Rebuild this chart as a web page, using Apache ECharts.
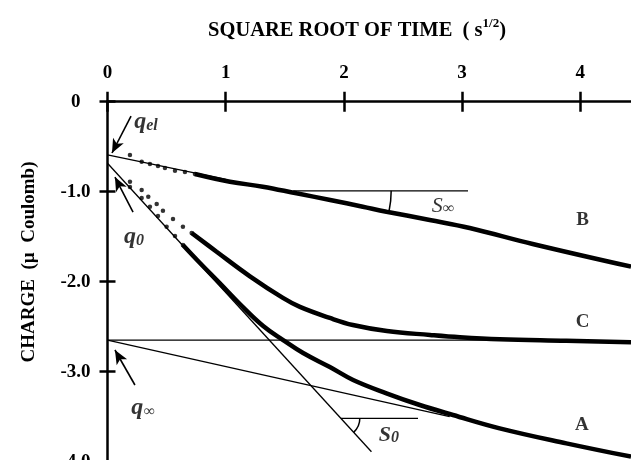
<!DOCTYPE html>
<html>
<head>
<meta charset="utf-8">
<title>Charge vs square root of time</title>
<script src="https://cdn.jsdelivr.net/npm/echarts@6/dist/echarts.min.js"></script>
<style>
html, body { margin: 0; padding: 0; background: #fff; overflow: hidden; }
#chartBox { width: 631px; height: 480px; }
</style>
</head>
<body>
<div id="chartBox"></div>
<script>
// axis ticks
const xTicks = [0, 1, 2, 3, 4];
const yTicks = [0, -1, -2, -3, -4];

// curve B (top)
const bDotX = [0.19, 0.289, 0.359, 0.427, 0.486, 0.571, 0.655, 0.74];
const bDotY = [-0.592, -0.667, -0.692, -0.714, -0.737, -0.767, -0.781, -0.803];
const bLineX = [0.74, 1.036, 1.314, 1.599, 1.884, 2.16, 2.36, 2.726, 3.064, 3.597, 4.429];
const bLineY = [-0.803, -0.889, -0.944, -1.018, -1.092, -1.167, -1.222, -1.314, -1.403, -1.581, -1.833];

// curve C (middle)
const cDotX = [0.19, 0.289, 0.345, 0.416, 0.469, 0.554, 0.638, 0.712];
const cDotY = [-0.889, -0.981, -1.056, -1.137, -1.211, -1.303, -1.389, -1.459];
const cLineX = [0.712, 0.923, 1.205, 1.484, 1.628, 1.881, 2.076, 2.364, 2.728, 2.982, 3.318, 3.882, 4.429];
const cLineY = [-1.459, -1.667, -1.94, -2.18, -2.28, -2.403, -2.481, -2.548, -2.592, -2.618, -2.64, -2.656, -2.673];

// curve A (bottom)
const aDotX = [0.19, 0.289, 0.359, 0.427, 0.5, 0.571, 0.638];
const aDotY = [-0.948, -1.07, -1.167, -1.27, -1.389, -1.492, -1.592];
const aLineX = [0.638, 0.782, 0.951, 1.12, 1.317, 1.486, 1.655, 1.881, 2.078, 2.36, 2.642, 2.923, 3.318, 3.882, 4.429];
const aLineY = [-1.592, -1.792, -2.018, -2.248, -2.492, -2.648, -2.792, -2.948, -3.092, -3.24, -3.37, -3.481, -3.629, -3.796, -3.944];

// thin construction lines
const qelLineX = [0, 1.0];
const qelLineY = [-0.592, -0.862];
const s0LineX = [0, 2.233];
const s0LineY = [-0.684, -3.889];
const qinfFlatX = [0, 3.4];
const qinfFlatY = [-2.65, -2.65];
const qinfSlopeX = [0, 2.895];
const qinfSlopeY = [-2.65, -3.498];
const sinfRefX = [1.571, 3.05];
const sinfRefY = [-0.99, -0.99];
const s0RefX = [1.974, 2.627];
const s0RefY = [-3.518, -3.518];

// arrows (tail -> head)
const arrowFromX = [0.199, 0.216, 0.232];
const arrowFromY = [-0.159, -1.226, -3.148];
const arrowToX = [0.038, 0.063, 0.063];
const arrowToY = [-0.570, -0.837, -2.759];

// text notes
const noteX = [0.326, 0.224, 0.300, 2.838, 2.381, 4.019, 4.019, 4.014];
const noteY = [-0.226, -1.503, -3.403, -1.159, -3.703, -1.314, -2.444, -3.592];
const noteText = ['{q|q}{sub|el}', '{q|q}{sub|0}', '{q|q}{sub|∞}', '{s|S}{ssub|∞}', '{s0|S}{s0sub|0}', '{lab|B}', '{lab|C}', '{lab|A}'];

const FONT = 'Liberation Serif';

function zip(xs, ys) {
	return xs.map((x, i) => [x, ys[i]]);
}

function thin(xs, ys) {
	return {
		type: 'line',
		data: zip(xs, ys),
		symbol: 'none',
		silent: true,
		lineStyle: { color: '#000', width: 1.3 },
		z: 1
	};
}

function curve(xs, ys) {
	return {
		type: 'line',
		data: zip(xs, ys),
		symbol: 'none',
		smooth: 0.4,
		silent: true,
		lineStyle: { color: '#000', width: 4.5 },
		z: 3
	};
}

function dots(xs, ys) {
	return {
		type: 'scatter',
		data: zip(xs, ys),
		symbol: 'circle',
		symbolSize: 4.5,
		silent: true,
		itemStyle: { color: '#000' },
		z: 3
	};
}

let myChart = echarts.init(document.getElementById('chartBox'));

let option = {
	animation: false,
	backgroundColor: '#fff',
	grid: { left: 107.5, top: 101.7, width: 523.5, height: 378, outerBoundsMode: 'none' },
	xAxis: [{
		type: 'value',
		position: 'top',
		min: 0,
		max: 4.429,
		axisLine: { show: true, lineStyle: { color: '#000', width: 2.5 } },
		axisTick: { show: true, inside: false, length: 10, customValues: xTicks, lineStyle: { color: '#000', width: 2.5 } },
		axisLabel: {
			customValues: xTicks,
			margin: 19,
			color: '#000',
			fontFamily: FONT,
			fontWeight: 'bold',
			fontSize: 19
		},
		splitLine: { show: false }
	}, {
		type: 'value',
		position: 'top',
		min: 0,
		max: 4.429,
		axisLine: { show: false },
		axisTick: { show: true, inside: true, length: 10, customValues: xTicks, lineStyle: { color: '#000', width: 2.5 } },
		axisLabel: { show: false },
		splitLine: { show: false }
	}],
	yAxis: [{
		type: 'value',
		position: 'left',
		min: -4.2,
		max: 0,
		axisLine: { show: true, lineStyle: { color: '#000', width: 2.5 } },
		axisTick: { show: true, inside: false, length: 8, customValues: yTicks, lineStyle: { color: '#000', width: 2.5 } },
		axisLabel: {
			customValues: yTicks,
			margin: 17,
			color: '#000',
			fontFamily: FONT,
			fontWeight: 'bold',
			fontSize: 19,
			formatter: function (v) {
				return v === 0 ? '{z|0}' : v.toFixed(1);
			},
			rich: {
				z: { fontFamily: FONT, fontWeight: 'bold', fontSize: 19, color: '#000', padding: [0, 10, 0, 0] }
			}
		},
		splitLine: { show: false }
	}, {
		type: 'value',
		position: 'left',
		min: -4.2,
		max: 0,
		axisLine: { show: false },
		axisTick: { show: true, inside: true, length: 8, customValues: yTicks, lineStyle: { color: '#000', width: 2.5 } },
		axisLabel: { show: false },
		splitLine: { show: false }
	}],
	series: [
		thin(qelLineX, qelLineY),
		thin(s0LineX, s0LineY),
		thin(qinfFlatX, qinfFlatY),
		thin(qinfSlopeX, qinfSlopeY),
		thin(sinfRefX, sinfRefY),
		thin(s0RefX, s0RefY),
		dots(bDotX, bDotY),
		curve(bLineX, bLineY),
		dots(cDotX, cDotY),
		curve(cLineX, cLineY),
		dots(aDotX, aDotY),
		curve(aLineX, aLineY),
		// arrows
		{
			type: 'line',
			data: [],
			markLine: {
				silent: true,
				animation: false,
				symbol: ['none', 'arrow'],
				symbolSize: [9, 14],
				label: { show: false },
				lineStyle: { color: '#000', width: 1.6, type: 'solid' },
				data: arrowFromX.map((x, i) => [
					{ coord: [x, arrowFromY[i]] },
					{ coord: [arrowToX[i], arrowToY[i]] }
				])
			}
		},
		// notes
		{
			type: 'scatter',
			silent: true,
			symbolSize: 1,
			itemStyle: { color: 'rgba(0,0,0,0)' },
			z: 5,
			data: noteX.map((x, i) => ({ value: [x, noteY[i]], label: { formatter: noteText[i] } })),
			label: {
				show: true,
				position: 'inside',
				color: '#000',
				rich: {
					q: { fontFamily: FONT, fontStyle: 'italic', fontWeight: 'bold', fontSize: 24, color: '#000', verticalAlign: 'bottom', lineHeight: 24 },
					sub: { fontFamily: FONT, fontStyle: 'italic', fontWeight: 'bold', fontSize: 16, color: '#000', verticalAlign: 'bottom', lineHeight: 14 },
					s: { fontFamily: FONT, fontStyle: 'italic', fontSize: 22, color: '#000', verticalAlign: 'bottom', lineHeight: 22 },
					ssub: { fontFamily: FONT, fontStyle: 'italic', fontSize: 16, color: '#000', verticalAlign: 'bottom', lineHeight: 13 },
					s0: { fontFamily: FONT, fontStyle: 'italic', fontWeight: 'bold', fontSize: 22, color: '#000', verticalAlign: 'bottom', lineHeight: 22 },
					s0sub: { fontFamily: FONT, fontStyle: 'italic', fontWeight: 'bold', fontSize: 16, color: '#000', verticalAlign: 'bottom', lineHeight: 13 },
					lab: { fontFamily: FONT, fontWeight: 'bold', fontSize: 19, color: '#000' }
				}
			}
		}
	]
};
myChart.setOption(option, true);

// angle arcs for S_inf and S_0, plus title and y name
const pInf = myChart.convertToPixel({ gridIndex: 0 }, [sinfRefX[0], sinfRefY[0]]);
const p0 = myChart.convertToPixel({ gridIndex: 0 }, [s0RefX[0], s0RefY[0]]);
myChart.setOption({
	graphic: [
		{
			type: 'arc',
			silent: true,
			shape: { cx: pInf[0], cy: pInf[1], r: 98, startAngle: 0, endAngle: 0.21, clockwise: true },
			style: { stroke: '#000', fill: null, lineWidth: 1.5 }
		},
		{
			type: 'arc',
			silent: true,
			shape: { cx: p0[0], cy: p0[1], r: 19, startAngle: 0, endAngle: 0.83, clockwise: true },
			style: { stroke: '#000', fill: null, lineWidth: 1.5 }
		},
		{
			type: 'text',
			silent: true,
			x: 357,
			y: 29,
			style: {
				text: '{t|SQUARE ROOT OF TIME  ( s}{sup|1/2}{t|)}',
				align: 'center',
				verticalAlign: 'middle',
				rich: {
					t: { fontFamily: FONT, fontWeight: 'bold', fontSize: 20.5, fill: '#000', lineHeight: 24, verticalAlign: 'bottom' },
					sup: { fontFamily: FONT, fontWeight: 'bold', fontSize: 13, fill: '#000', lineHeight: 24, verticalAlign: 'top' }
				}
			}
		},
		{
			type: 'text',
			silent: true,
			x: 29,
			y: 262,
			rotation: Math.PI / 2,
			style: {
				text: 'CHARGE  (µ  Coulomb)',
				align: 'center',
				verticalAlign: 'middle',
				fontFamily: FONT,
				fontWeight: 'bold',
				fontSize: 19,
				fill: '#000'
			}
		}
	]
});
</script>
</body>
</html>
